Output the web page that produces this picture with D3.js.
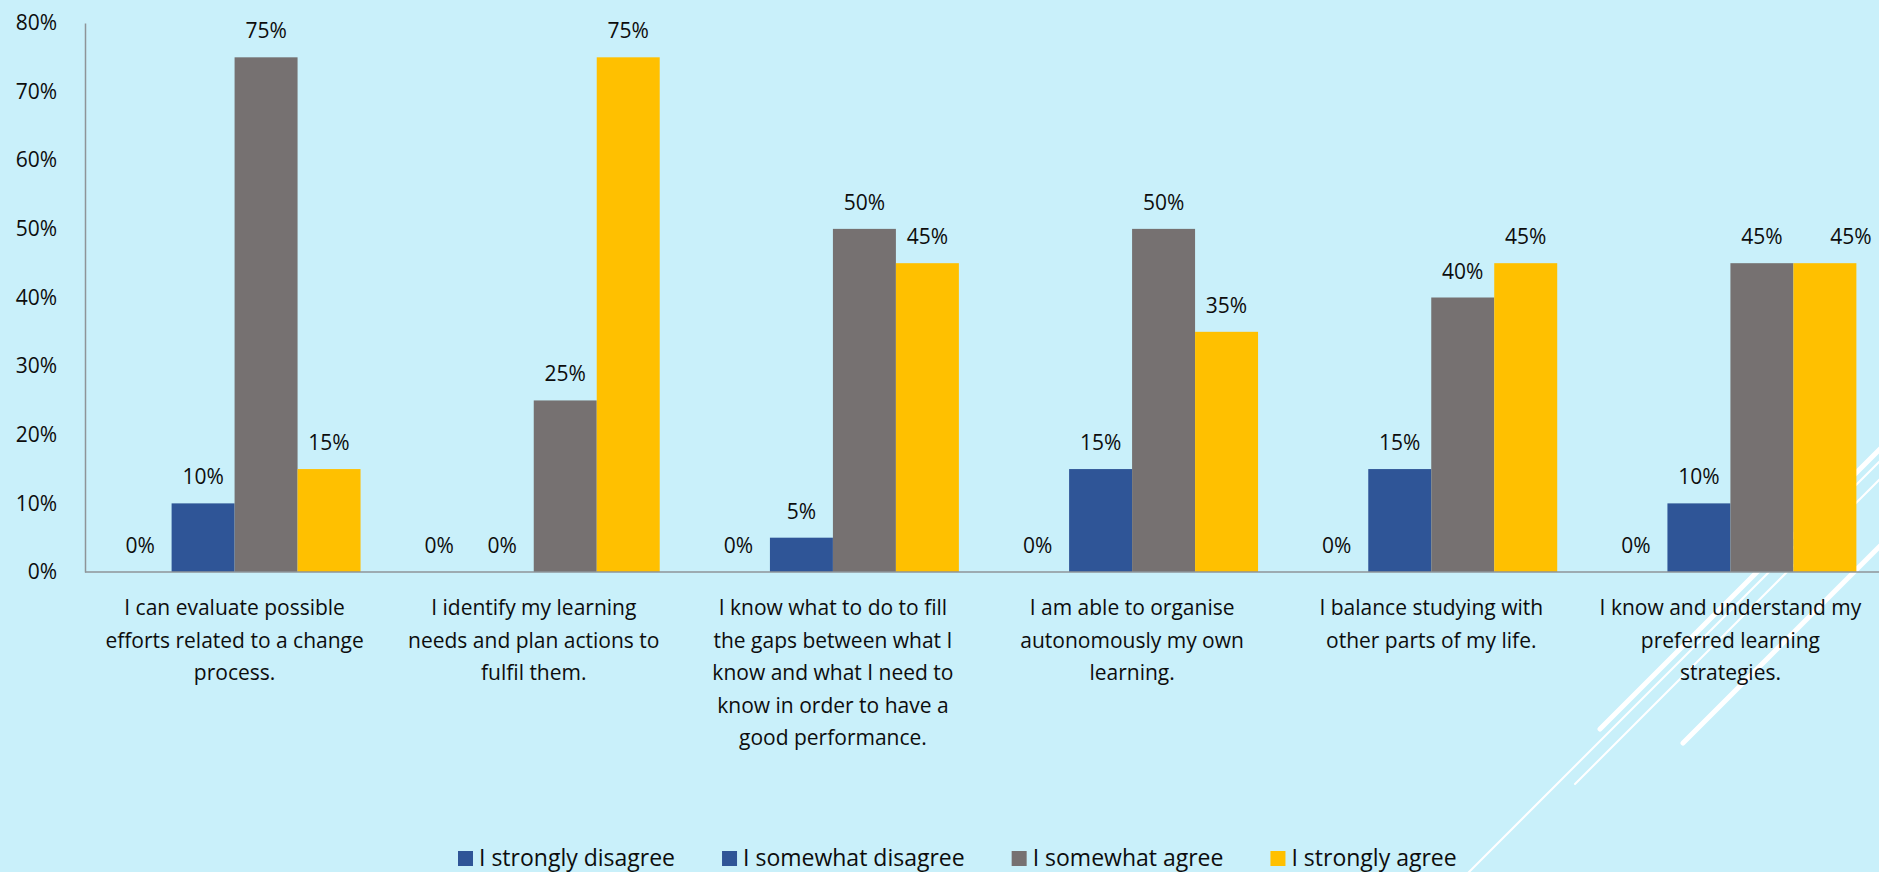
<!DOCTYPE html>
<html>
<head>
<meta charset="utf-8">
<script src="https://cdn.jsdelivr.net/npm/d3@7"></script>
<style>
  html, body { margin: 0; padding: 0; background: #C9F0FA; overflow: hidden; }
  svg { display: block; }
  text { font-family: "Open Sans", "Noto Sans", sans-serif; fill: #0D0D0D; }
</style>
</head>
<body>
<svg id="chart" width="1879" height="872"></svg>
<script>
// Survey statements (line breaks as they appear under each group)
const categories = [
  "I can evaluate possible\nefforts related to a change\nprocess.",
  "I identify my learning\nneeds and plan actions to\nfulfil them.",
  "I know what to do to fill\nthe gaps between what I\nknow and what I need to\nknow in order to have a\ngood performance.",
  "I am able to organise\nautonomously my own\nlearning.",
  "I balance studying with\nother parts of my life.",
  "I know and understand my\npreferred learning\nstrategies."
];

const seriesNames = ["I strongly disagree", "I somewhat disagree", "I somewhat agree", "I strongly agree"];
const seriesColors = ["#2F5597", "#2F5597", "#767171", "#FFC000"];

// Share of respondents (%) per statement
const stronglyDisagree = [0, 0, 0, 0, 0, 0];
const somewhatDisagree = [10, 0, 5, 15, 15, 10];
const somewhatAgree    = [75, 25, 50, 50, 40, 45];
const stronglyAgree    = [15, 75, 45, 35, 45, 45];

const yTicks = [0, 10, 20, 30, 40, 50, 60, 70, 80];

const seriesValues = [stronglyDisagree, somewhatDisagree, somewhatAgree, stronglyAgree];

const W = 1879, H = 872;
const plot = { left: 85, right: 1880, top: 23, bottom: 572 };

// The last value label sits nudged towards the right edge
const labelNudge = { "5-3": 26 };

const svg = d3.select("#chart");

svg.append("rect").attr("width", W).attr("height", H).attr("fill", "#C9F0FA");

// Decorative diagonal strokes in the lower-right corner (behind the chart)
const deco = svg.append("g").attr("stroke", "#FFFFFF").attr("stroke-linecap", "round").attr("fill", "none");
[
  { from: 1600, c: 2329, w: 5 },
  { from: 1683, c: 2426, w: 5 },
  { from: 1575, c: 2359, w: 2 },
  { from: 1468, c: 2341, w: 2 }
].forEach(s => {
  deco.append("line")
    .attr("x1", s.from).attr("y1", s.c - s.from)
    .attr("x2", 1900).attr("y2", s.c - 1900)
    .attr("stroke-width", s.w);
});

const x0 = d3.scaleBand()
  .domain(d3.range(categories.length))
  .range([plot.left, plot.right])
  .paddingInner(0).paddingOuter(0);

const x1 = d3.scaleBand()
  .domain(d3.range(seriesNames.length))
  .range([0, x0.bandwidth()])
  .paddingInner(0).paddingOuter(0.375);

const y = d3.scaleLinear().domain([0, 80]).range([plot.bottom, plot.top]);

// Bars
const groups = svg.append("g").selectAll("g")
  .data(categories.map((c, i) => i))
  .join("g")
  .attr("transform", i => `translate(${x0(i)},0)`);

groups.selectAll("rect")
  .data(i => seriesValues.map((vals, s) => ({ s, v: vals[i] })))
  .join("rect")
  .attr("x", d => x1(d.s))
  .attr("y", d => y(d.v))
  .attr("width", x1.bandwidth())
  .attr("height", d => y(0) - y(d.v))
  .attr("fill", d => seriesColors[d.s]);

// Axes
const axisColor = "#8E9498";
const yAxis = svg.append("g")
  .attr("transform", `translate(${plot.left},0)`)
  .call(d3.axisLeft(y).tickValues(yTicks).tickFormat(d => d + "%").tickSize(0).tickPadding(28));
yAxis.select(".domain").attr("stroke", axisColor).attr("stroke-width", 1.5);
yAxis.selectAll("text")
  .attr("font-size", 21)
  .attr("font-family", "Open Sans, sans-serif")
  .attr("fill", "#0D0D0D");

svg.append("line")
  .attr("x1", plot.left).attr("x2", W)
  .attr("y1", y(0)).attr("y2", y(0))
  .attr("stroke", axisColor).attr("stroke-width", 1.5);

// Value labels above the bars
groups.selectAll("text.val")
  .data(i => seriesValues.map((vals, s) => ({ s, v: vals[i], key: i + "-" + s })))
  .join("text")
  .attr("class", "val")
  .attr("font-size", 21)
  .attr("text-anchor", "middle")
  .attr("x", d => x1(d.s) + x1.bandwidth() / 2 + (labelNudge[d.key] || 0))
  .attr("y", d => y(d.v) - 19)
  .text(d => d.v + "%");

// Category labels under the axis
const catLabels = svg.append("g").selectAll("text")
  .data(categories)
  .join("text")
  .attr("font-size", 21)
  .attr("text-anchor", "middle")
  .attr("transform", (d, i) => `translate(${x0(i) + x0.bandwidth() / 2},${y(0) + 43})`);
catLabels.selectAll("tspan")
  .data(d => d.split("\n"))
  .join("tspan")
  .attr("x", 0)
  .attr("y", (d, k) => k * 32.5)
  .text(d => d);

// Legend
const legend = svg.append("g").attr("transform", "translate(458,0)");
let lx = 0;
seriesNames.forEach((name, s) => {
  const item = legend.append("g").attr("transform", `translate(${lx},0)`);
  item.append("rect")
    .attr("x", 0).attr("y", 851)
    .attr("width", 15).attr("height", 15)
    .attr("fill", seriesColors[s]);
  const t = item.append("text")
    .attr("x", 21).attr("y", 866)
    .attr("font-size", 23)
    .text(name);
  lx += 21 + t.node().getComputedTextLength() + 47;
});
</script>
</body>
</html>
